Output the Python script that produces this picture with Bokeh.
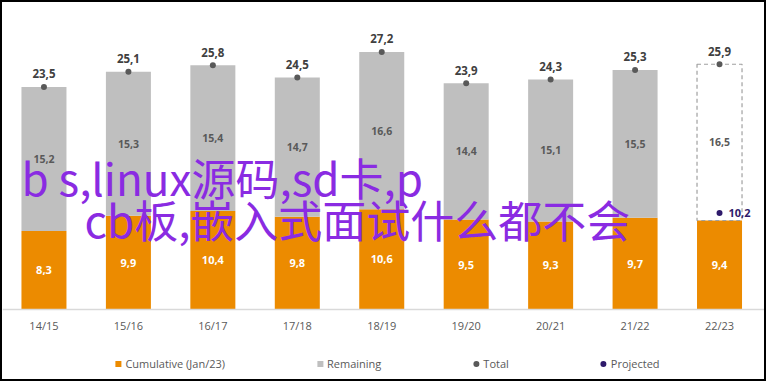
from bokeh.plotting import figure
from bokeh.models import Range1d, FixedTicker, ColumnDataSource, Legend, LegendItem, Label
from bokeh.core.properties import value
from bokeh.embed import file_html
from bokeh.resources import INLINE

# ---- data ----
categories = ["14/15", "15/16", "16/17", "17/18", "18/19", "19/20", "20/21", "21/22", "22/23"]
cumulative = [8.3, 9.9, 10.4, 9.8, 10.6, 9.5, 9.3, 9.7, 9.4]
remaining = [15.2, 15.3, 15.4, 14.7, 16.6, 14.4, 15.1, 15.5, 16.5]
total = [23.5, 25.1, 25.8, 24.5, 27.2, 23.9, 24.3, 25.3, 25.9]
is_projection = [False, False, False, False, False, False, False, False, True]
projected_category = ["22/23"]
projected_value = [10.2]
watermark_lines = ["b s,linux源码,sd卡,p", "cb板,嵌入式面试什么都不会"]

ORANGE = "#EC8B00"
GREY = "#BFBFBF"
DOT = "#595959"
PROJ = "#2E1A6B"
FONT = "Open Sans"


def fmt(v):
    return f"{v:.1f}".replace(".", ",")


xs = list(range(len(categories)))
idx = {c: i for i, c in enumerate(categories)}

orange_src = ColumnDataSource(dict(
    x=xs, top=cumulative,
    ly=[c / 2 for c in cumulative],
    label=[fmt(c) for c in cumulative]))

actual = [i for i in xs if not is_projection[i]]
proj = [i for i in xs if is_projection[i]]

grey_src = ColumnDataSource(dict(
    x=actual, bottom=[cumulative[i] for i in actual], top=[total[i] for i in actual]))
dash_src = ColumnDataSource(dict(
    x=proj, bottom=[cumulative[i] for i in proj], top=[total[i] for i in proj]))
rem_src = ColumnDataSource(dict(
    x=xs, y=[(cumulative[i] + total[i]) / 2 for i in xs],
    label=[fmt(r) for r in remaining]))
tot_src = ColumnDataSource(dict(x=xs, y=total, label=[fmt(t) for t in total]))
proj_src = ColumnDataSource(dict(
    x=[idx[c] for c in projected_category], y=projected_value,
    label=[fmt(v) for v in projected_value]))

p = figure(width=766, height=381,
           x_range=Range1d(-0.491, 8.580), y_range=Range1d(-7.81, 32.42),
           output_backend="svg", toolbar_location=None,
           y_axis_location=None, min_border=0)
p.styles = {"border": "2px solid #000000"}
p.outline_line_color = None
p.xgrid.visible = False
p.ygrid.visible = False
p.background_fill_color = "white"

ax = p.xaxis[0]
ax.fixed_location = 0
ax.ticker = FixedTicker(ticks=xs)
ax.major_label_overrides = {i: c for i, c in enumerate(categories)}
ax.axis_line_color = "#D9D9D9"
ax.axis_line_width = 1.5
ax.major_tick_line_color = None
ax.minor_tick_line_color = None
ax.major_label_standoff = 2
ax.major_label_text_font = FONT
ax.major_label_text_font_size = "11px"
ax.major_label_text_color = "#595959"

W = 0.533
p.vbar(x="x", top="top", bottom=0, width=W, fill_color=ORANGE, line_color=None, source=orange_src)
p.vbar(x="x", top="top", bottom="bottom", width=W, fill_color=GREY, line_color=None, source=grey_src)
p.vbar(x="x", top="top", bottom="bottom", width=W, fill_color=None, line_color="#A0A0A0",
       line_dash="4 3", line_width=1.2, source=dash_src)

p.text(x="x", y="ly", text="label", source=orange_src, text_align="center", text_baseline="middle",
       text_font=value(FONT), text_font_style="bold", text_font_size="11px", text_color="white")
p.text(x="x", y="y", text="label", source=rem_src, text_align="center", text_baseline="middle",
       text_font=value(FONT), text_font_style="bold", text_font_size="10.5px", text_color="#595959")

tot_r = p.scatter(x="x", y="y", source=tot_src, size=6, fill_color=DOT, line_color=None)
p.text(x="x", y="y", text="label", source=tot_src, text_align="center", text_baseline="middle",
       y_offset=-13, text_font=value(FONT), text_font_style="bold", text_font_size="11.5px",
       text_color="#404040")

proj_r = p.scatter(x="x", y="y", source=proj_src, size=6, fill_color=PROJ, line_color=None)
p.text(x="x", y="y", text="label", source=proj_src, text_align="left", text_baseline="middle",
       x_offset=9, text_font=value(FONT), text_font_style="bold", text_font_size="11px",
       text_color=PROJ)

# zero-size square markers on the bar data, used only as legend swatches
leg_cum = p.scatter(x="x", y="ly", source=orange_src, marker="square", size=0,
                    fill_color=ORANGE, line_color=None)
leg_rem = p.scatter(x="x", y="bottom", source=grey_src, marker="square", size=0,
                    fill_color=GREY, line_color=None)

legend = Legend(items=[
    LegendItem(label="Cumulative (Jan/23)", renderers=[leg_cum]),
    LegendItem(label="Remaining", renderers=[leg_rem]),
    LegendItem(label="Total", renderers=[tot_r]),
    LegendItem(label="Projected", renderers=[proj_r]),
], orientation="horizontal", location="bottom_center", spacing=87, padding=0, margin=12,
    border_line_color=None, background_fill_alpha=0,
    label_text_font=FONT, label_text_font_size="11px", label_text_color="#595959",
    glyph_width=15, glyph_height=15, label_height=15, label_standoff=0)
p.add_layout(legend)

for (lx, ly), txt in zip([(-0.266, 14.0), (0.48, 9.60)], watermark_lines):
    p.add_layout(Label(x=lx, y=ly, text=txt, text_baseline="middle", text_align="left",
                       text_font="Noto Sans CJK SC", text_font_size="44px", text_color="#8A2BE2"))

open("out.html", "w").write(file_html(p, INLINE))
